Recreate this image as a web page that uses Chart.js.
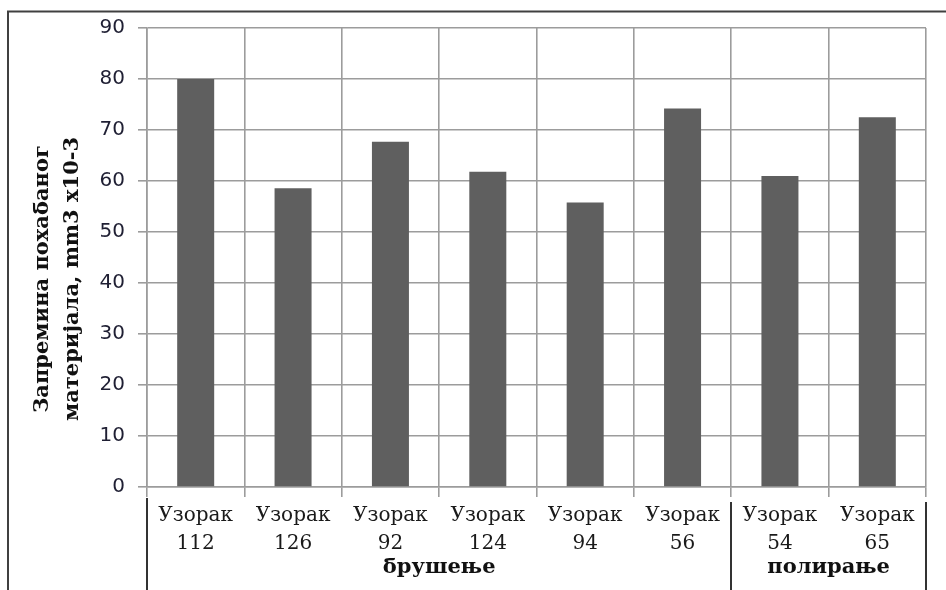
<!DOCTYPE html>
<html lang="sr">
<head>
    <meta charset="UTF-8">
    <title>Запремина похабаног материјала</title>
    <script src="https://cdn.jsdelivr.net/npm/chart.js"></script>
    <style>
        html, body { margin: 0; padding: 0; background: #fff; }
        #wrap { width: 946px; height: 590px; }
    </style>
</head>
<body>
<div id="wrap"><canvas id="wearChart" width="946" height="590"></canvas></div>

<script>
    // Data
    var sampleNames = ['Узорак 112', 'Узорак 126', 'Узорак 92', 'Узорак 124', 'Узорак 94', 'Узорак 56', 'Узорак 54', 'Узорак 65'];
    var wearVolume = [80, 58.6, 67.7, 61.8, 55.8, 74.2, 61, 72.5];
    var groupNames = ['брушење', 'полирање'];
    var groupSizes = [6, 2];
    var yTitle = ['Запремина похабаног', 'материјала, mm3 x10-3'];

    // two-line tick labels: "Узорак" / number
    var tickLabels = sampleNames.map(function (s) { return s.split(' '); });

    // outer frame, group separators and group names, y title
    var decorPlugin = {
        id: 'decor',
        beforeDraw: function (chart) {
            var c = chart.ctx;
            c.save();
            c.fillStyle = '#fff';
            c.fillRect(0, 0, chart.width, chart.height);
            c.strokeStyle = '#404040';
            c.lineWidth = 2;
            c.strokeRect(8, 11.5, chart.width + 20, chart.height + 20);
            c.restore();
        },
        afterDraw: function (chart) {
            var c = chart.ctx;
            var x = chart.scales.x;
            var area = chart.chartArea;
            c.save();

            // group boundaries
            var edges = [area.left];
            var idx = 0;
            groupSizes.forEach(function (n) {
                idx += n;
                if (idx >= sampleNames.length) {
                    edges.push(area.right);
                } else {
                    edges.push((x.getPixelForTick(idx - 1) + x.getPixelForTick(idx)) / 2);
                }
            });

            c.strokeStyle = '#333';
            c.lineWidth = 2;
            edges.forEach(function (ex, i) {
                c.beginPath();
                c.moveTo(Math.round(ex), i === 0 ? 498 : 502);
                c.lineTo(Math.round(ex), chart.height);
                c.stroke();
            });

            c.fillStyle = '#111';
            c.font = 'bold 21px "DejaVu Serif"';
            c.textAlign = 'center';
            c.textBaseline = 'middle';
            groupNames.forEach(function (g, i) {
                c.fillText(g, (edges[i] + edges[i + 1]) / 2, 568);
            });

            // y axis title
            c.translate(58, 279);
            c.rotate(-Math.PI / 2);
            c.font = 'bold 21px "DejaVu Serif"';
            c.fillText(yTitle[0], 0, -15);
            c.fillText(yTitle[1], 0, 15);
            c.restore();
        }
    };

    var ctx = document.getElementById('wearChart').getContext('2d');
    var wearChart = new Chart(ctx, {
        type: 'bar',
        data: {
            labels: tickLabels,
            datasets: [{
                label: 'Запремина',
                data: wearVolume,
                backgroundColor: '#5f5f5f',
                borderWidth: 0,
                categoryPercentage: 1,
                barPercentage: 0.38
            }]
        },
        options: {
            responsive: false,
            animation: false,
            layout: { padding: { top: 28, right: 20, left: 10, bottom: 0 } },
            plugins: {
                legend: { display: false },
                tooltip: { enabled: false }
            },
            scales: {
                x: {
                    grid: { color: '#9c9c9c', lineWidth: 1.6, tickLength: 10, offset: true },
                    border: { color: '#9c9c9c', width: 1.6 },
                    ticks: {
                        color: '#1a1a1a',
                        maxRotation: 0,
                        autoSkip: false,
                        padding: 5,
                        font: { family: 'DejaVu Serif', size: 20, lineHeight: 1.4 }
                    },
                    afterFit: function (scale) { scale.height = 103; }
                },
                y: {
                    min: 0,
                    max: 90,
                    grid: { color: '#9c9c9c', lineWidth: 1.6, tickLength: 9 },
                    border: { color: '#9c9c9c', width: 1.6 },
                    ticks: {
                        stepSize: 10,
                        color: '#1f1f33',
                        padding: 13,
                        font: { family: 'DejaVu Sans', size: 20 }
                    },
                    afterFit: function (scale) { scale.width = 137; }
                }
            }
        },
        plugins: [decorPlugin]
    });
</script>
</body>
</html>
